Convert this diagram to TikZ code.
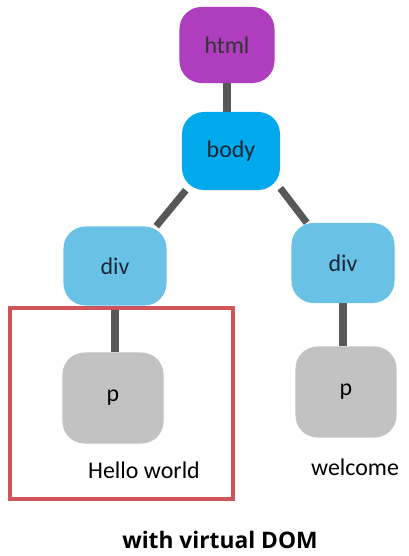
\documentclass[tikz,border=0pt]{standalone}
\usepackage{fontspec}
\setmainfont{Carlito}
\newfontfamily\captionfont{Open Sans}
\usepackage{tikz}
\usetikzlibrary{backgrounds}
\definecolor{htmlpurple}{HTML}{AE3EBE}
\definecolor{bodyblue}{HTML}{00A9EC}
\definecolor{divblue}{HTML}{6AC1E6}
\definecolor{pgray}{HTML}{C2C2C2}
\definecolor{framered}{HTML}{D0555A}
\definecolor{linkgray}{HTML}{585858}
\definecolor{tagtext}{HTML}{1B2638}

\begin{document}
\begin{tikzpicture}[
  x=0.025cm,y=-0.025cm,
  font=\fontsize{17}{20}\selectfont,
  tag/.style={rounded corners=0.55cm,inner sep=0pt,align=center,text=tagtext},
  link/.style={line width=5pt,linkgray},
]
\useasboundingbox (0,0) rectangle (408,556);
\node[tag,fill=htmlpurple,minimum width=2.375cm,minimum height=1.9cm,text=black!80] (html) at (227,45) {html};
\node[tag,fill=bodyblue,minimum width=2.45cm,minimum height=1.95cm] (body) at (231,151) {body};
\node[tag,fill=divblue,minimum width=2.575cm,minimum height=1.975cm] (ldiv) at (115,266) {div};
\node[tag,fill=divblue,minimum width=2.575cm,minimum height=2cm] (rdiv) at (343,263) {div};
\node[tag,fill=pgray,minimum width=2.525cm,minimum height=2.275cm,text=black] (lp) at (113,398) {p};
\node[tag,fill=pgray,minimum width=2.525cm,minimum height=2.275cm,text=black] (rp) at (346,392) {p};
\node (hello) at (144,470) {Hello world};
\node (welcome) at (355,467) {welcome};
\node[font=\captionfont\fontsize{16.2}{20}\selectfont\bfseries] (caption) at (220,540) {with virtual DOM};
\draw[framered,line width=3pt] (10,308) rectangle (233,499);
\begin{scope}[on background layer]
\draw[link] (html) -- (body.north-|html);
\draw[link] (body.221) -- (ldiv.44);
\draw[link] (body.323) -- (rdiv.132);
\draw[link] (ldiv) -- (lp.north-|ldiv);
\draw[link] (rdiv) -- (rp.north-|rdiv);
\end{scope}
\end{tikzpicture}
\end{document}
